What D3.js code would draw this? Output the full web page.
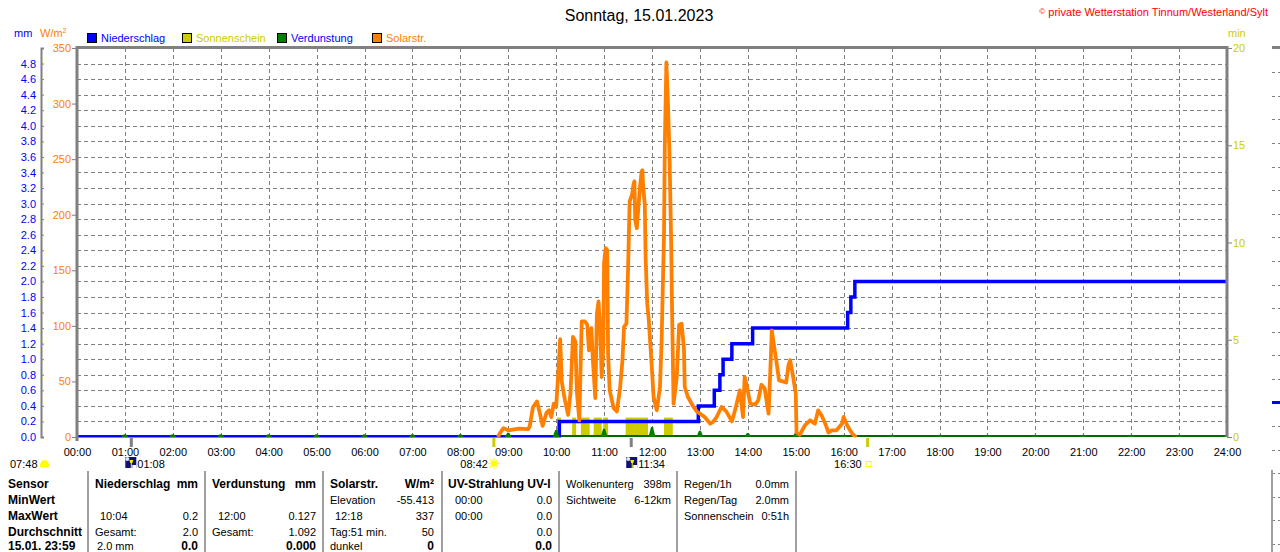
<!DOCTYPE html>
<html><head><meta charset="utf-8">
<script src="https://cdn.jsdelivr.net/npm/d3@7"></script>
<style>
html,body{margin:0;padding:0;background:#fff;}
svg{display:block;font-family:"Liberation Sans",Arial,sans-serif;}
</style></head>
<body>
<svg id="c" width="1280" height="552"></svg>
<script>
// ---------- DATA ----------
const title = "Sonntag, 15.01.2023";
const hourLabels = d3.range(0, 25).map(h => String(h).padStart(2, "0") + ":00");
const mmTicks = d3.range(0, 25).map(i => +(i * 0.2).toFixed(1));
const wTicks = [0, 50, 100, 150, 200, 250, 300, 350];
const minTicks = [0, 5, 10, 15, 20];

// Solar radiation (W/m²)
const solarTime = ["08:47","08:50","08:54","09:00","09:13","09:25","09:27","09:31","09:36","09:40","09:43","09:48","09:51","09:54","09:57","10:00","10:03","10:05","10:07","10:11","10:15","10:18","10:21","10:24","10:26","10:29","10:32","10:36","10:39","10:41","10:44","10:46","10:49","10:51","10:53","10:55","10:57","10:59","11:00","11:02","11:04","11:05","11:07","11:12","11:16","11:20","11:23","11:25","11:28","11:30","11:32","11:35","11:37","11:38","11:39","11:41","11:43","11:45","11:47","11:48","11:49","11:51","11:52","11:54","11:56","12:00","12:02","12:06","12:10","12:12","12:14","12:15","12:16","12:18","12:20","12:22","12:24","12:25","12:27","12:31","12:34","12:37","12:40","12:41","12:45","12:52","12:56","13:00","13:06","13:13","13:17","13:21","13:27","13:33","13:40","13:44","13:50","13:54","13:56","13:59","14:03","14:09","14:13","14:17","14:21","14:26","14:29","14:30","14:33","14:36","14:39","14:44","14:48","14:51","14:53","14:57","15:00","15:01","15:05","15:12","15:18","15:24","15:28","15:32","15:37","15:41","15:45","15:51","15:58","16:00","16:04","16:08","16:12","16:16"];
const solarValue = [0,4,8,6,7.5,7,10,27,32,20,10,22,24,18,30,27,62,88,50,33,20,40,90,86,40,15,104,104,101,78,98,69,35,111,122,99,54,81,157,170,168,75,42,26,23,44,69,99,102,150,212,218,228,230,195,188,207,225,239,240,224,209,162,120,105,60,36,24,45,85,150,180,260,337,299,252,175,120,30,54,101,102,80,45,36,27,23,21,18,12,14,18,27,23,14,24,42,18,54,45,30,29,33,47,44,21,75,96,81,67,51,50,49,65,69,53,39,4,2,11,15,12,24,20,12,4,6,6,12,18,11,6,2,0];

// Precipitation, cumulative (mm)
const rainTime = ["00:00","10:04","12:58","13:18","13:25","13:29","13:40","14:06","16:05","16:09","16:14","24:00"];
const rainValue = [0,0.2,0.4,0.6,0.8,1.0,1.2,1.4,1.6,1.8,2.0,2.0];

// Sunshine (min per interval)
const sunFrom = ["10:01","10:20","10:31","10:47","10:59","11:27","12:15"];
const sunTo   = ["10:06","10:25","10:42","10:57","11:05","11:55","12:26"];
const sunMinutes = [1,1,1,1,1,1,1];

// Evaporation per hour (mm)
const evapHour = d3.range(1, 25);
const evapValue = [0.035,0.035,0.035,0.035,0.035,0.035,0.035,0.035,0.055,0.09,0.105,0.127,0.08,0.05,0.05,0.03,0.028,0.028,0.028,0.028,0.028,0.028,0.028,0.028];

// Sun / moon events
const eventDawn = "07:48", eventMoonrise = "01:08", eventSunrise = "08:42", eventMoonset = "11:34", eventSunset = "16:30";

// Table
const tableRows = [
  [["Sensor","b"],["Niederschlag","b"],["mm","b"],["Verdunstung","b"],["mm","b"],["Solarstr.","b"],["W/m²","b"],["UV-Strahlung UV-I","b"],["",""],["Wolkenunterg",""],["398m",""],["Regen/1h",""],["0.0mm",""]],
  [["MinWert","b"],["",""],["",""],["",""],["",""],["Elevation",""],["-55.413",""],["00:00",""],["0.0",""],["Sichtweite",""],["6-12km",""],["Regen/Tag",""],["2.0mm",""]],
  [["MaxWert","b"],["10:04",""],["0.2",""],["12:00",""],["0.127",""],["12:18",""],["337",""],["00:00",""],["0.0",""],["",""],["",""],["Sonnenschein",""],["0:51h",""]],
  [["Durchschnitt","b"],["Gesamt:",""],["2.0",""],["Gesamt:",""],["1.092",""],["Tag:51 min.",""],["50",""],["",""],["0.0",""],["",""],["",""],["",""],["",""]],
  [["15.01. 23:59","b"],["2.0 mm",""],["0.0","b"],["",""],["0.000","b"],["dunkel",""],["0","b"],["",""],["0.0","b"],["",""],["",""],["",""],["",""]]
];

// ---------- LAYOUT ----------
const L = 77, R = 1227, T = 48, B = 437;
const toMin = s => { const [h, m] = s.split(":").map(Number); return h * 60 + m; };
const x = d3.scaleLinear().domain([0, 1440]).range([L, R]);
const yMm = d3.scaleLinear().domain([0, 5]).range([B, T]);
const yW = d3.scaleLinear().domain([0, 350]).range([B, T]);
const yMin = d3.scaleLinear().domain([0, 20]).range([B, T]);

const C = {blue:"#0000ff", orange:"#ff8000", yellow:"#cccc00", green:"#008000", dkgreen:"#006a00", gray:"#808080", red:"#ff0000"};
const svg = d3.select("#c");
svg.append("defs").append("clipPath").attr("id", "plotclip")
  .append("rect").attr("x", L).attr("y", T - 2).attr("width", R - L).attr("height", B - T + 2.5);

// Title + copyright
svg.append("text").attr("x", 639).attr("y", 21).attr("text-anchor", "middle")
  .attr("font-size", 16).attr("fill", "#000").text(title);
const cp = svg.append("text").attr("x", 1268).attr("y", 16).attr("text-anchor", "end")
  .attr("font-size", 11).attr("fill", C.red);
cp.append("tspan").attr("font-size", 8).attr("dy", -2).text("©");
cp.append("tspan").attr("dy", 2).text(" private Wetterstation Tinnum/Westerland/Sylt");

// unit labels
svg.append("text").attr("x", 14).attr("y", 37).attr("font-size", 11).attr("fill", C.blue).text("mm");
const wu = svg.append("text").attr("x", 40).attr("y", 37).attr("font-size", 11).attr("fill", C.orange);
wu.append("tspan").text("W/m");
wu.append("tspan").attr("font-size", 7).attr("dy", -4).text("2");
svg.append("text").attr("x", 1228).attr("y", 37).attr("font-size", 11).attr("fill", C.yellow).text("min");

// legend
const legend = [["Niederschlag", C.blue, C.blue], ["Sonnenschein", C.yellow, C.yellow], ["Verdunstung", C.green, C.blue], ["Solarstr.", C.orange, C.orange]];
legend.forEach((d, i) => {
  const lx = 87 + i * 95;
  svg.append("rect").attr("x", lx + 0.5).attr("y", 33.5).attr("width", 9).attr("height", 9)
    .attr("fill", d[1]).attr("stroke", "#000").attr("stroke-width", 1);
  svg.append("text").attr("x", lx + 14).attr("y", 42).attr("font-size", 11).attr("fill", d[2]).text(d[0]);
});

// gridlines
const grid = svg.append("g").attr("stroke", C.gray).attr("stroke-width", 1).attr("stroke-dasharray", "4,3");
mmTicks.filter(v => v > 0).forEach(v => {
  const yy = Math.round(yMm(v)) + 0.5;
  grid.append("line").attr("x1", L).attr("x2", R).attr("y1", yy).attr("y2", yy);
});
d3.range(1, 24).forEach(h => {
  const xx = Math.round(x(h * 60)) + 0.5;
  grid.append("line").attr("x1", xx).attr("x2", xx).attr("y1", T).attr("y2", B);
});

// axes
const axMm = svg.append("g").attr("transform", `translate(41,0)`)
  .call(d3.axisLeft(yMm).tickValues(mmTicks).tickFormat(d3.format(".1f")).tickSize(-3).tickPadding(5));
axMm.select(".domain").attr("stroke", C.gray).attr("stroke-width", 2);
axMm.selectAll(".tick line").attr("stroke", C.gray);
axMm.selectAll("text").attr("fill", C.blue).attr("font-size", 11).attr("font-family", "Liberation Sans, Arial, sans-serif");

const axW = svg.append("g").attr("transform", `translate(${L},0)`)
  .call(d3.axisLeft(yW).tickValues(wTicks).tickSize(5).tickPadding(1));
axW.select(".domain").remove();
axW.selectAll(".tick line").attr("stroke", C.gray);
axW.selectAll("text").attr("fill", C.orange).attr("font-size", 11).attr("font-family", "Liberation Sans, Arial, sans-serif");

const axMin = svg.append("g").attr("transform", `translate(${R},0)`)
  .call(d3.axisRight(yMin).tickValues(minTicks).tickSize(5).tickPadding(1));
axMin.select(".domain").remove();
axMin.selectAll(".tick line").attr("stroke", C.gray);
axMin.selectAll("text").attr("fill", C.yellow).attr("font-size", 11).attr("font-family", "Liberation Sans, Arial, sans-serif");

const axX = svg.append("g").attr("transform", `translate(0,${B})`)
  .call(d3.axisBottom(x).tickValues(d3.range(0, 1441, 60)).tickFormat((d, i) => hourLabels[i]).tickSize(0).tickPadding(11));
axX.select(".domain").remove();
axX.selectAll("text").attr("fill", "#000").attr("font-size", 11).attr("font-family", "Liberation Sans, Arial, sans-serif");

const plot = svg.append("g").attr("clip-path", "url(#plotclip)");

// sunshine bars
plot.append("g").selectAll("rect").data(sunFrom).join("rect")
  .attr("x", (d, i) => x(toMin(d)))
  .attr("width", (d, i) => x(toMin(sunTo[i])) - x(toMin(d)))
  .attr("y", (d, i) => yMin(sunMinutes[i]))
  .attr("height", (d, i) => B - yMin(sunMinutes[i]))
  .attr("fill", C.yellow);

// evaporation baseline
plot.append("line").attr("x1", L).attr("x2", R).attr("y1", B - 1).attr("y2", B - 1)
  .attr("stroke", C.dkgreen).attr("stroke-width", 2);

// precipitation (cumulative step line)
const rainData = rainTime.map((t, i) => [toMin(t), rainValue[i]]);
plot.append("path").datum(rainData)
  .attr("d", d3.line().x(d => x(d[0])).y(d => yMm(d[1])).curve(d3.curveStepAfter))
  .attr("fill", "none").attr("stroke", C.blue).attr("stroke-width", 3.5);

// evaporation hourly markers
plot.append("g").selectAll("path").data(evapHour).join("path")
  .attr("d", (h, i) => {
    const cx = x(h * 60), top = yMm(evapValue[i]);
    return `M${cx - 3.5},${B} L${cx - 1},${top} L${cx + 1},${top} L${cx + 3.5},${B} Z`;
  }).attr("fill", C.green);

// solar radiation
const solarData = solarTime.map((t, i) => [toMin(t), solarValue[i]]);
plot.append("path").datum(solarData)
  .attr("d", d3.line().x(d => x(d[0])).y(d => yW(d[1])))
  .attr("fill", "none").attr("stroke", C.orange).attr("stroke-width", 3.8).attr("stroke-linejoin", "round");

// frame
svg.append("line").attr("x1", L - 1).attr("x2", R + 1).attr("y1", T - 0.5).attr("y2", T - 0.5).attr("stroke", C.gray).attr("stroke-width", 3);
svg.append("line").attr("x1", L).attr("x2", L).attr("y1", T - 2).attr("y2", B + 4).attr("stroke", C.gray).attr("stroke-width", 3);
svg.append("line").attr("x1", R).attr("x2", R).attr("y1", T - 2).attr("y2", B).attr("stroke", C.gray).attr("stroke-width", 3);

// event ticks below axis
[[eventSunrise, C.yellow], [eventSunset, C.yellow], [eventMoonrise, C.gray], [eventMoonset, C.gray]].forEach(d => {
  const xx = x(toMin(d[0]));
  svg.append("line").attr("x1", xx).attr("x2", xx).attr("y1", B + 1).attr("y2", B + 10)
    .attr("stroke", d[1]).attr("stroke-width", 3);
});

// event labels row
const ey = 468;
function txt(tx, ty, s, opt = {}) {
  return svg.append("text").attr("x", tx).attr("y", ty).attr("font-size", opt.size || 11)
    .attr("font-weight", opt.bold ? "bold" : "normal").attr("text-anchor", opt.anchor || "start")
    .attr("fill", opt.fill || "#000").text(s);
}
txt(10, ey, eventDawn);
svg.append("path").attr("d", "M40,467 Q40,460 44.5,460 Q49,460 49,467 Z").attr("fill", "#ffff00");
function moon(cx) {
  const g = svg.append("g").attr("transform", `translate(${cx - 5},457)`);
  g.append("rect").attr("width", 11).attr("height", 11).attr("fill", "#10107a");
  g.append("circle").attr("cx", 2).attr("cy", 2).attr("r", 2).attr("fill", "#e0e0ff");
  g.append("path").attr("d", "M4,3 L8,3 L7,6 L6.5,6 L6.5,11 L5.5,11 L5.5,6 L5,6 Z").attr("fill", "#ffee00");
  g.append("rect").attr("x", 7).attr("y", 8).attr("width", 4).attr("height", 3).attr("fill", "#ffffff");
}
moon(x(toMin(eventMoonrise)) - 1);
txt(x(toMin(eventMoonrise)) + 6, ey, eventMoonrise);
moon(x(toMin(eventMoonset)));
txt(x(toMin(eventMoonset)) + 7, ey, eventMoonset);
txt(x(toMin(eventSunrise)) - 6, ey, eventSunrise, {anchor: "end"});
{
  const sx = x(toMin(eventSunrise)), sy = 463.5;
  svg.append("circle").attr("cx", sx).attr("cy", sy).attr("r", 3.2).attr("fill", "#ffff00");
  d3.range(8).forEach(k => {
    const a = k * Math.PI / 4;
    svg.append("line").attr("x1", sx + Math.cos(a) * 3.5).attr("y1", sy + Math.sin(a) * 3.5)
      .attr("x2", sx + Math.cos(a) * 5.5).attr("y2", sy + Math.sin(a) * 5.5)
      .attr("stroke", "#ffff00").attr("stroke-width", 1.2);
  });
}
txt(x(toMin(eventSunset)) - 6, ey, eventSunset, {anchor: "end"});
svg.append("rect").attr("x", x(toMin(eventSunset)) - 1.5).attr("y", 461.5).attr("width", 5).attr("height", 5)
  .attr("fill", "none").attr("stroke", "#ffff00").attr("stroke-width", 1);

// table separators
[88, 205, 323, 442, 559, 677, 796].forEach(sx => {
  svg.append("line").attr("x1", sx).attr("x2", sx).attr("y1", 471).attr("y2", 552).attr("stroke", "#a0a0a0").attr("stroke-width", 2);
});
// table text
const colX = [[8,"start"],[95,"start"],[198,"end"],[212,"start"],[316,"end"],[330,"start"],[434,"end"],[448,"start"],[552,"end"],[566,"start"],[671,"end"],[684,"start"],[789,"end"]];
const rowY = [488, 504, 520, 536, 550];
const indent = {"10:04": 5, "12:00": 6, "12:18": 5, "00:00": 7, "2.0 mm": 2};
tableRows.forEach((row, ri) => {
  row.forEach((cell, ci) => {
    if (!cell[0]) return;
    const bold = cell[1] === "b";
    const dx = (colX[ci][1] === "start" && indent[cell[0]]) ? indent[cell[0]] : 0;
    txt(colX[ci][0] + dx, rowY[ri], cell[0], {bold, size: bold ? 12 : 11, anchor: colX[ci][1]});
  });
});

// neighbouring panel edge (cut off at the right)
const nb = d3.scaleLinear().domain([0, 20]).range([72.3, 544]);
svg.append("line").attr("x1", 1272).attr("x2", 1280).attr("y1", T - 0.5).attr("y2", T - 0.5).attr("stroke", C.gray).attr("stroke-width", 3);
d3.range(0, 21).forEach(i => {
  const yy = Math.round(nb(i)) + 0.5;
  if (i === 14) return;
  svg.append("line").attr("x1", 1272).attr("x2", 1280).attr("y1", yy).attr("y2", yy)
    .attr("stroke", C.gray).attr("stroke-dasharray", "3,3");
});
svg.append("line").attr("x1", 1272).attr("x2", 1280).attr("y1", nb(14)).attr("y2", nb(14)).attr("stroke", C.blue).attr("stroke-width", 3);
svg.append("line").attr("x1", 1272).attr("x2", 1272).attr("y1", 470).attr("y2", 552).attr("stroke", "#a0a0a0").attr("stroke-width", 2);
</script>
</body></html>
